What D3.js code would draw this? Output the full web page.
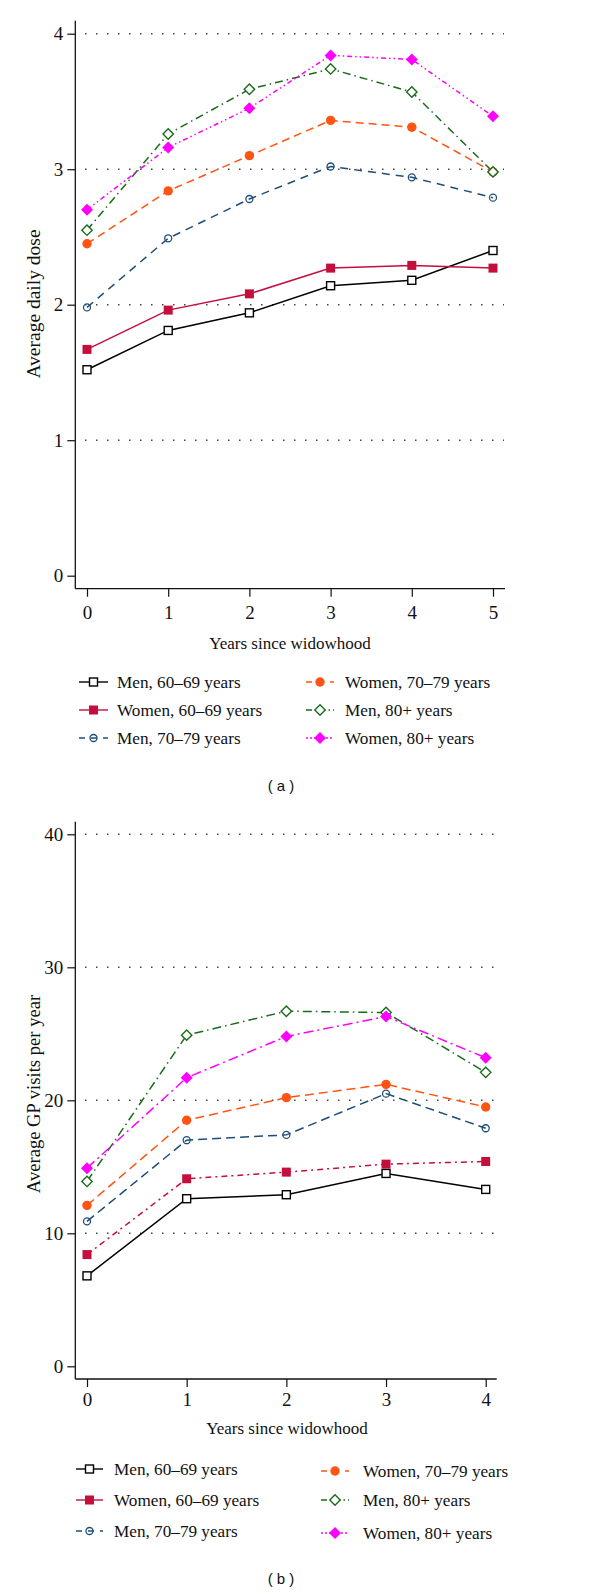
<!DOCTYPE html>
<html>
<head>
<meta charset="utf-8">
<script src="https://cdn.jsdelivr.net/npm/d3@7"></script>
<style>
  html, body { margin: 0; padding: 0; background: #fff; }
  svg { display: block; }
  .serif { font-family: "Liberation Serif", "DejaVu Serif", serif; fill: #111; }
  .sans { font-family: "Liberation Sans", Arial, sans-serif; fill: #111; }
</style>
</head>
<body>
<svg id="chart" width="600" height="1594"></svg>
<script>
// ---------------- DATA ----------------
const seriesNames = ["Men, 60–69 years", "Women, 60–69 years", "Men, 70–79 years",
                     "Women, 70–79 years", "Men, 80+ years", "Women, 80+ years"];

// Panel (a): average daily dose
const yearsA = [0, 1, 2, 3, 4, 5];
const doseMen6069   = [1.52, 1.81, 1.94, 2.14, 2.18, 2.40];
const doseWomen6069 = [1.67, 1.96, 2.08, 2.27, 2.29, 2.27];
const doseMen7079   = [1.98, 2.49, 2.78, 3.02, 2.94, 2.79];
const doseWomen7079 = [2.45, 2.84, 3.10, 3.36, 3.31, 2.98];
const doseMen80     = [2.55, 3.26, 3.59, 3.74, 3.57, 2.98];
const doseWomen80   = [2.70, 3.16, 3.45, 3.84, 3.81, 3.39];
const yTicksA = [0, 1, 2, 3, 4];

// Panel (b): average GP visits per year
const yearsB = [0, 1, 2, 3, 4];
const gpMen6069   = [6.8, 12.6, 12.9, 14.5, 13.3];
const gpWomen6069 = [8.4, 14.1, 14.6, 15.2, 15.4];
const gpMen7079   = [10.9, 17.0, 17.4, 20.5, 17.9];
const gpWomen7079 = [12.1, 18.5, 20.2, 21.2, 19.5];
const gpMen80     = [13.9, 24.9, 26.7, 26.6, 22.1];
const gpWomen80   = [14.9, 21.7, 24.8, 26.3, 23.2];
const yTicksB = [0, 10, 20, 30, 40];

// ---------------- STYLES ----------------
const colors = ["#000000", "#c40f3c", "#1e4d78", "#ff5414", "#1a6b1a", "#ff00ff"];
const markers = ["squareOpen", "squareFilled", "circleOpen", "circleFilled", "diamondOpen", "diamondFilled"];
const dashesA = [null, null, "8,6", "8,5", "8,4,1.5,4", "5,3,1.5,3,1.5,3"];
const dashesB = [null, "6,4,2,4", "9,5", "9,5", "9,4,1.5,4", "10,4,2,4"];
const legendDashes = [null, null, "6,6", "6,6", "6,3,1.5,3", "2,2"];

const svg = d3.select("#chart");

function drawMarker(g, type, x, y, color) {
  if (type === "squareOpen" || type === "squareFilled") {
    const s = type === "squareOpen" ? 8 : 9;
    g.append("rect").attr("x", x - s / 2).attr("y", y - s / 2).attr("width", s).attr("height", s)
      .attr("fill", type === "squareOpen" ? "#fff" : color)
      .attr("stroke", color).attr("stroke-width", type === "squareOpen" ? 1.4 : 0);
  } else if (type === "circleOpen" || type === "circleFilled") {
    g.append("circle").attr("cx", x).attr("cy", y).attr("r", type === "circleOpen" ? 3.5 : 4.7)
      .attr("fill", type === "circleOpen" ? "none" : color)
      .attr("stroke", color).attr("stroke-width", type === "circleOpen" ? 1.3 : 0);
  } else {
    const r = type === "diamondOpen" ? 5.2 : 6;
    g.append("path").attr("d", `M${x},${y - r}L${x + r},${y}L${x},${y + r}L${x - r},${y}Z`)
      .attr("fill", type === "diamondOpen" ? "#fff" : color)
      .attr("stroke", color).attr("stroke-width", type === "diamondOpen" ? 1.4 : 0);
  }
}

function panel(cfg) {
  const g = svg.append("g");
  const x = d3.scaleLinear().domain(cfg.xDomain).range(cfg.xRange);
  const y = d3.scaleLinear().domain(cfg.yDomain).range(cfg.yRange);

  // gridlines (dotted)
  cfg.yTicks.filter(t => t !== 0).forEach(t => {
    g.append("line").attr("x1", cfg.gridX[0]).attr("x2", cfg.gridX[1])
      .attr("y1", y(t)).attr("y2", y(t))
      .attr("stroke", "#444").attr("stroke-width", 1.6)
      .attr("stroke-dasharray", "1.5,9.5").attr("stroke-linecap", "butt");
  });

  // y axis
  const yAxis = d3.axisLeft(y).tickValues(cfg.yTicks).tickSize(8).tickPadding(4).tickFormat(d3.format("d"));
  const ya = g.append("g").attr("transform", `translate(${cfg.box.left},0)`).call(yAxis);
  ya.select(".domain").attr("d", `M0,${cfg.box.top}V${cfg.box.bottom}`).attr("stroke", "#111").attr("stroke-width", 1.3);
  ya.selectAll(".tick line").attr("stroke", "#111").attr("stroke-width", 1.2);
  ya.selectAll(".tick text").attr("class", "serif").style("font-size", "19px").attr("fill", "#111");

  // x axis
  const xAxis = d3.axisBottom(x).tickValues(cfg.xTicks).tickSize(8).tickPadding(cfg.xPad).tickFormat(d3.format("d"));
  const xa = g.append("g").attr("transform", `translate(0,${cfg.box.bottom})`).call(xAxis);
  xa.select(".domain").attr("d", `M${cfg.box.left},0H${cfg.box.right}`).attr("stroke", "#111").attr("stroke-width", 1.3);
  xa.selectAll(".tick line").attr("stroke", "#111").attr("stroke-width", 1.2);
  xa.selectAll(".tick text").attr("class", "serif").style("font-size", "19px").attr("fill", "#111");

  // axis titles
  g.append("text").attr("class", "serif").attr("text-anchor", "middle")
    .attr("transform", `translate(${cfg.yTitleX},${cfg.yTitleY}) rotate(-90)`)
    .style("font-size", cfg.yTitleSize).text(cfg.yTitle);
  g.append("text").attr("class", "serif").attr("text-anchor", "middle")
    .attr("x", cfg.xTitleX).attr("y", cfg.xTitleY)
    .style("font-size", "17px").text(cfg.xTitle);

  // series lines
  const line = d3.line().x((d, i) => x(cfg.xs[i])).y(d => y(d));
  cfg.series.forEach((vals, k) => {
    g.append("path").datum(vals).attr("d", line)
      .attr("fill", "none").attr("stroke", colors[k]).attr("stroke-width", 1.5)
      .attr("stroke-dasharray", cfg.dashes[k]);
  });
  cfg.series.forEach((vals, k) => {
    vals.forEach((v, i) => drawMarker(g, markers[k], x(cfg.xs[i]), y(v), colors[k]));
  });

  // legend
  cfg.legendItems.forEach((it, k) => {
    const lg = g.append("g");
    const cx = (it.x1 + it.x2) / 2;
    lg.append("line").attr("x1", it.x1).attr("x2", it.x2).attr("y1", it.y).attr("y2", it.y)
      .attr("stroke", colors[k]).attr("stroke-width", 1.4)
      .attr("stroke-dasharray", legendDashes[k]);
    drawMarker(lg, markers[k], cx, it.y, colors[k]);
    lg.append("text").attr("class", "serif").attr("x", it.tx).attr("y", it.y)
      .attr("dominant-baseline", "central").style("font-size", "17.2px").text(seriesNames[k]);
  });

  // caption
  g.append("text").attr("class", "sans").attr("text-anchor", "middle")
    .attr("x", cfg.capX).attr("y", cfg.capY).attr("dominant-baseline", "central")
    .style("font-size", "15px").text(cfg.caption);
}

panel({
  xs: yearsA, xTicks: yearsA, yTicks: yTicksA,
  xDomain: [0, 5], xRange: [87, 493],
  yDomain: [0, 4], yRange: [575.7, 33.7],
  box: { left: 75.3, right: 505, top: 20.7, bottom: 588.7 },
  gridX: [85, 504], xPad: 9,
  series: [doseMen6069, doseWomen6069, doseMen7079, doseWomen7079, doseMen80, doseWomen80],
  dashes: dashesA,
  yTitle: "Average daily dose", yTitleX: 40, yTitleY: 304, yTitleSize: "19.5px",
  xTitle: "Years since widowhood", xTitleX: 290, xTitleY: 649,
  legendItems: [
    { x1: 79, x2: 108, tx: 117, y: 682 },
    { x1: 79, x2: 108, tx: 117, y: 710 },
    { x1: 79, x2: 108, tx: 117, y: 738 },
    { x1: 306, x2: 334, tx: 345, y: 682 },
    { x1: 306, x2: 334, tx: 345, y: 710 },
    { x1: 306, x2: 334, tx: 345, y: 738 }
  ],
  caption: "( a )", capX: 281, capY: 785
});

panel({
  xs: yearsB, xTicks: yearsB, yTicks: yTicksB,
  xDomain: [0, 4], xRange: [87, 485.7],
  yDomain: [0, 40], yRange: [1366.3, 834.3],
  box: { left: 75.3, right: 496.7, top: 821.7, bottom: 1379 },
  gridX: [85, 496], xPad: 6,
  series: [gpMen6069, gpWomen6069, gpMen7079, gpWomen7079, gpMen80, gpWomen80],
  dashes: dashesB,
  yTitle: "Average GP visits per year", yTitleX: 40, yTitleY: 1094, yTitleSize: "18.6px",
  xTitle: "Years since widowhood", xTitleX: 287, xTitleY: 1434,
  legendItems: [
    { x1: 76, x2: 103, tx: 114, y: 1469 },
    { x1: 76, x2: 103, tx: 114, y: 1500 },
    { x1: 76, x2: 103, tx: 114, y: 1531 },
    { x1: 321, x2: 349, tx: 363, y: 1471 },
    { x1: 321, x2: 349, tx: 363, y: 1500 },
    { x1: 321, x2: 349, tx: 363, y: 1533 }
  ],
  caption: "( b )", capX: 281, capY: 1578
});
</script>
</body>
</html>
